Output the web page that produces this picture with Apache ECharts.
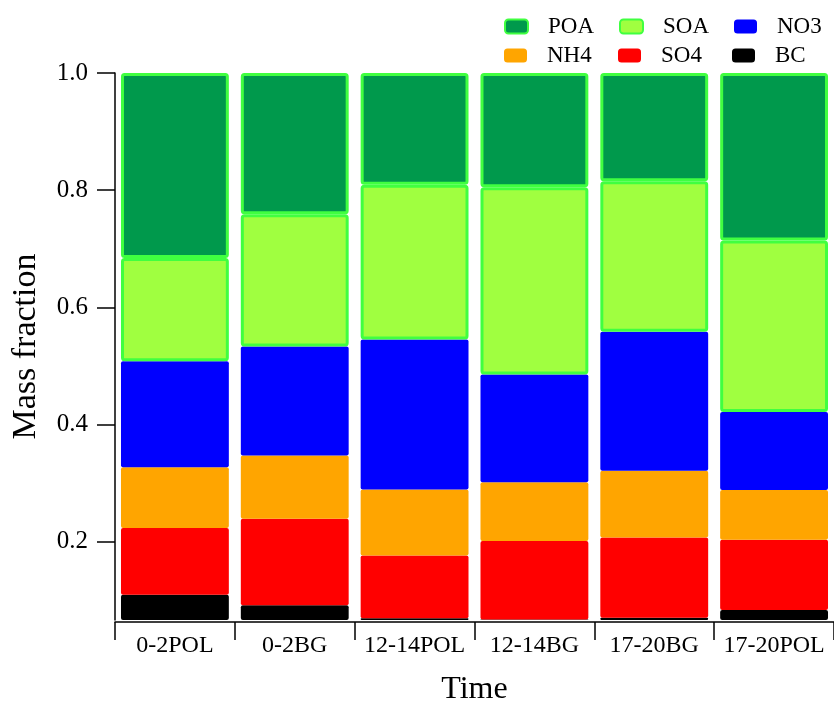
<!DOCTYPE html>
<html><head><meta charset="utf-8">
<script src="https://cdn.jsdelivr.net/npm/echarts@6/dist/echarts.min.js"></script>
<style>html,body{margin:0;padding:0;background:#fff}#c{width:834px;height:704px}</style>
</head><body><div id="c"></div>
<script>
const categories = ['0-2POL','0-2BG','12-14POL','12-14BG','17-20BG','17-20POL'];
const BC  = [0.109,0.091,0.069,0.067,0.070,0.083];
const SO4 = [0.114,0.148,0.107,0.134,0.137,0.120];
const NH4 = [0.104,0.108,0.113,0.100,0.114,0.085];
const NO3 = [0.181,0.186,0.256,0.184,0.237,0.133];
const SOA = [0.176,0.226,0.264,0.320,0.257,0.293];
const POA = [0.316,0.241,0.191,0.195,0.185,0.286];
const yTicks = [0.2,0.4,0.6,0.8,1.0];

const FONT = 'Liberation Serif';
const chart = echarts.init(document.getElementById('c'), null, {renderer:'canvas'});
function bar(name, data, color, border) {
  const s = {
    name, type:'bar', stack:'total', data, barCategoryGap:'10%',
    itemStyle:{color, borderRadius:2}
  };
  if (border) { s.itemStyle.borderColor = '#40ff40'; s.itemStyle.borderWidth = 3; }
  return s;
}
const legendBase = {
  icon:'roundRect', itemWidth:23, itemHeight:14, itemGap:11, left:499, width:400, orient:'horizontal',
  textStyle:{fontFamily:FONT, fontSize:23, color:'#000', width:60, lineHeight:14, padding:[0,0,0,15]}
};
chart.setOption({
  animation:false,
  backgroundColor:'#fff',
  legend:[
    Object.assign({}, legendBase, {data:['POA','SOA','NO3'], top:10}),
    Object.assign({}, legendBase, {data:['NH4','SO4','BC'], top:39})
  ],
  grid:{left:115, right:0, top:73, bottom:84, outerBoundsMode:'none', containLabel:false},
  xAxis:{
    type:'category', data:categories, offset:2,
    axisLine:{lineStyle:{color:'#000', width:1.5}},
    axisTick:{show:true, length:18, interval:0, lineStyle:{color:'#000', width:1.5}},
    axisLabel:{fontFamily:FONT, fontSize:24, color:'#000', margin:12, interval:0},
    name:'Time', nameLocation:'middle', nameGap:52,
    nameTextStyle:{fontFamily:FONT, fontSize:32, color:'#000'}
  },
  yAxis:{
    type:'value', min:0.066, max:1.0,
    axisLine:{show:true, lineStyle:{color:'#000', width:1.5}},
    axisTick:{show:true, length:18, lineStyle:{color:'#000', width:1.5}, customValues:yTicks},
    axisLabel:{customValues:yTicks, formatter:v=>v.toFixed(1), margin:27, fontFamily:FONT, fontSize:25, color:'#000'},
    splitLine:{show:false},
    name:'Mass fraction', nameLocation:'middle', nameGap:72,
    nameTextStyle:{fontFamily:FONT, fontSize:34, color:'#000'}
  },
  series:[
    bar('BC', BC, '#000000'),
    bar('SO4', SO4, '#ff0000'),
    bar('NH4', NH4, '#ffa500'),
    bar('NO3', NO3, '#0000ff'),
    bar('SOA', SOA, '#a0ff40', true),
    bar('POA', POA, '#00994c', true)
  ]
});
</script></body></html>
